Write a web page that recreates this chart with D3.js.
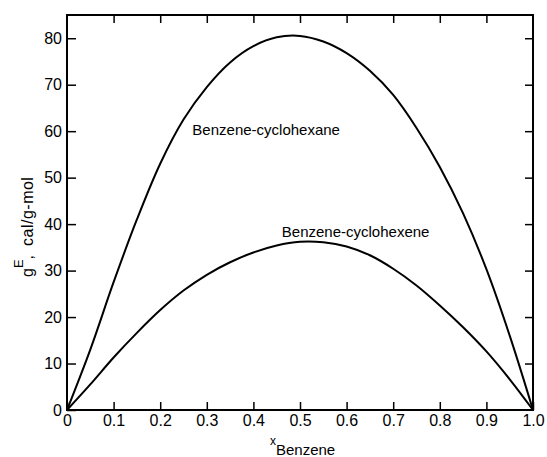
<!DOCTYPE html>
<html>
<head>
<meta charset="utf-8">
<script src="https://cdn.jsdelivr.net/npm/d3@7"></script>
<style>
  body { margin: 0; background: #fff; }
  text { font-family: "Liberation Sans", Arial, sans-serif; fill: #000; }
</style>
</head>
<body>
<svg id="chart" width="547" height="457"></svg>
<script>
// mole fraction of benzene
var xBenzene = [0, 0.05, 0.1, 0.15, 0.2, 0.25, 0.3, 0.35, 0.4, 0.45, 0.5,
                0.55, 0.6, 0.65, 0.7, 0.75, 0.8, 0.85, 0.9, 0.95, 1.0];
// excess Gibbs energy, cal/g-mol
var gCyclohexane = [0, 13, 27.5, 41, 53, 62.5, 69.5, 74.8, 78.3, 80.2, 80.5,
                    79.3, 76.8, 73, 67.8, 60.7, 52.3, 42.3, 30.3, 16, 0];
var gCyclohexene = [0, 5.5, 11.3, 16.6, 21.5, 25.7, 29.1, 31.8, 33.9, 35.4, 36.2,
                    36.1, 35.2, 33.3, 30.4, 26.8, 22.5, 17.8, 12.6, 6.6, 0];
var xTicks = [0, 0.1, 0.2, 0.3, 0.4, 0.5, 0.6, 0.7, 0.8, 0.9, 1.0];
var yTicks = [0, 10, 20, 30, 40, 50, 60, 70, 80];

var svg = d3.select("#chart");
var mLeft = 67, mRight = 533, mTop = 15, mBottom = 410;

var x = d3.scaleLinear().domain([0, 1]).range([mLeft, mRight]);
var y = d3.scaleLinear().domain([0, 85]).range([mBottom, mTop]);

var fmtX = function(d) { return d === 0 ? "0" : d3.format(".1f")(d); };

// bottom axis, ticks inward
var gx = svg.append("g")
    .attr("transform", "translate(0," + mBottom + ")")
    .call(d3.axisBottom(x).tickValues(xTicks).tickFormat(fmtX).tickSize(-8).tickPadding(5));
gx.selectAll("text").attr("dy", "0.71em").style("font-size", "16px");

// top axis ticks only
svg.append("g")
    .attr("transform", "translate(0," + mTop + ")")
    .call(d3.axisTop(x).tickValues(xTicks.slice(1, -1)).tickSize(-8).tickFormat(""));

// left axis
var gy = svg.append("g")
    .attr("transform", "translate(" + mLeft + ",0)")
    .call(d3.axisLeft(y).tickValues(yTicks).tickSize(-9).tickPadding(5));
gy.selectAll("text").style("font-size", "16px");

// right axis ticks only
svg.append("g")
    .attr("transform", "translate(" + mRight + ",0)")
    .call(d3.axisRight(y).tickValues(yTicks.slice(1)).tickSize(-8).tickFormat(""));

svg.selectAll(".domain").remove();
svg.selectAll(".tick line").attr("stroke", "#000").attr("stroke-width", 1.5);

// frame
svg.append("rect")
    .attr("x", mLeft).attr("y", mTop)
    .attr("width", mRight - mLeft).attr("height", mBottom - mTop)
    .attr("fill", "none").attr("stroke", "#000").attr("stroke-width", 2);

var line = d3.line()
    .x(function(d) { return x(d[0]); })
    .y(function(d) { return y(d[1]); })
    .curve(d3.curveCatmullRom.alpha(0.5));

[gCyclohexane, gCyclohexene].forEach(function(series) {
    svg.append("path")
        .datum(xBenzene.map(function(v, i) { return [v, series[i]]; }))
        .attr("fill", "none")
        .attr("stroke", "#000")
        .attr("stroke-width", 2)
        .attr("d", line);
});

// curve labels
svg.append("text")
    .attr("x", x(0.269)).attr("y", y(59.2))
    .style("font-size", "15px")
    .text("Benzene-cyclohexane");
svg.append("text")
    .attr("x", x(0.461)).attr("y", y(37.3))
    .style("font-size", "15px")
    .text("Benzene-cyclohexene");

// x axis label: x subscript Benzene
var xl = svg.append("text").attr("x", 270).attr("y", 445);
xl.append("tspan").style("font-size", "12px").text("x");
xl.append("tspan").attr("dy", 10).style("font-size", "15px").text("Benzene");

// y axis label
var yl = svg.append("text")
    .attr("transform", "translate(33,277) rotate(-90)");
yl.append("tspan").style("font-size", "16px").text("g");
yl.append("tspan").attr("dy", -10).style("font-size", "13px").text("E");
yl.append("tspan").attr("dy", 10).style("font-size", "16px").style("letter-spacing", "0.5px")
    .text(",\u2002cal/g-mol");
</script>
</body>
</html>
